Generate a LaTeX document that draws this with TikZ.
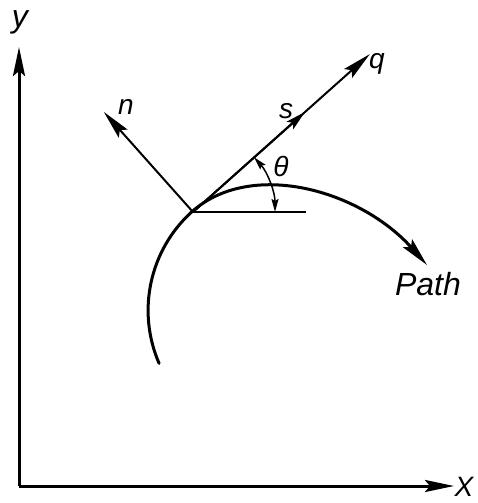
\documentclass[tikz,border=0pt]{standalone}
\usepackage{fontspec}
\setmainfont{Liberation Sans}
\usetikzlibrary{arrows.meta,calc}
\tikzset{
  lbl/.style={inner sep=0pt, font=\fontsize{28}{30}\selectfont\itshape},
  biglbl/.style={inner sep=0pt, font=\fontsize{32}{34}\selectfont\itshape},
  bigtip/.style={-{Stealth[length=29pt,width=12pt,inset=5pt]}},
  midtip/.style={-{Stealth[length=20pt,width=10pt,inset=4pt]}},
  smalltip/.style={{Stealth[length=13pt,width=7pt,inset=2pt]}-{Stealth[length=13pt,width=7pt,inset=2pt]}},
}
\begin{document}
\begin{tikzpicture}[x=1pt,y=-1pt]
\useasboundingbox (0,0) rectangle (477,503);
% axes
\coordinate (O) at (19,486);
\coordinate (Ytip) at (19,47);
\coordinate (Xtip) at (454,486);
\draw[line width=3pt, bigtip] (O) -- (Ytip);
\draw[line width=3pt, bigtip] (O) -- (Xtip);
\node[biglbl] (ylab) at (20,22) {y};
\node[lbl] (xlab) at (464,487) {X};
% point on path
\coordinate (P) at (193,212);
\coordinate (C) at (282,310);
\coordinate (Qtip) at ($(P)+(-41.76:237)$);
\coordinate (Smid) at ($(P)+(-41.76:150)$);
\coordinate (Ntip) at ($(P)+(-131.7:134)$);
\coordinate (H) at (306,212);
\coordinate (E) at (427,265);
% path curve
\draw[line width=3pt, line cap=round, bigtip]
  ($(C)+(156.5:134)$) arc[start angle=156.5, end angle=227.8, radius=133]
  .. controls (251,159) and (360,190) .. (E);
% lines
\draw[line width=2pt] (P) -- (H);
\draw[line width=2pt, bigtip] (P) -- (Ntip);
\draw[line width=2pt, bigtip] (P) -- (Qtip);
\draw[line width=2pt, midtip] (P) -- (Smid);
% theta arc
\draw[line width=1.5pt, smalltip] (P) ++(-41.76:82) arc[start angle=-41.76, end angle=0, radius=82];
% labels
\node[lbl] (nlab) at (126,107) {n};
\node[lbl] (slab) at (286,111) {s};
\node[lbl] (qlab) at (377,64) {q};
\node[lbl] (thlab) at (281,166) {θ};
\node[biglbl] (plab) at (428,284) {Path};
\end{tikzpicture}
\end{document}
